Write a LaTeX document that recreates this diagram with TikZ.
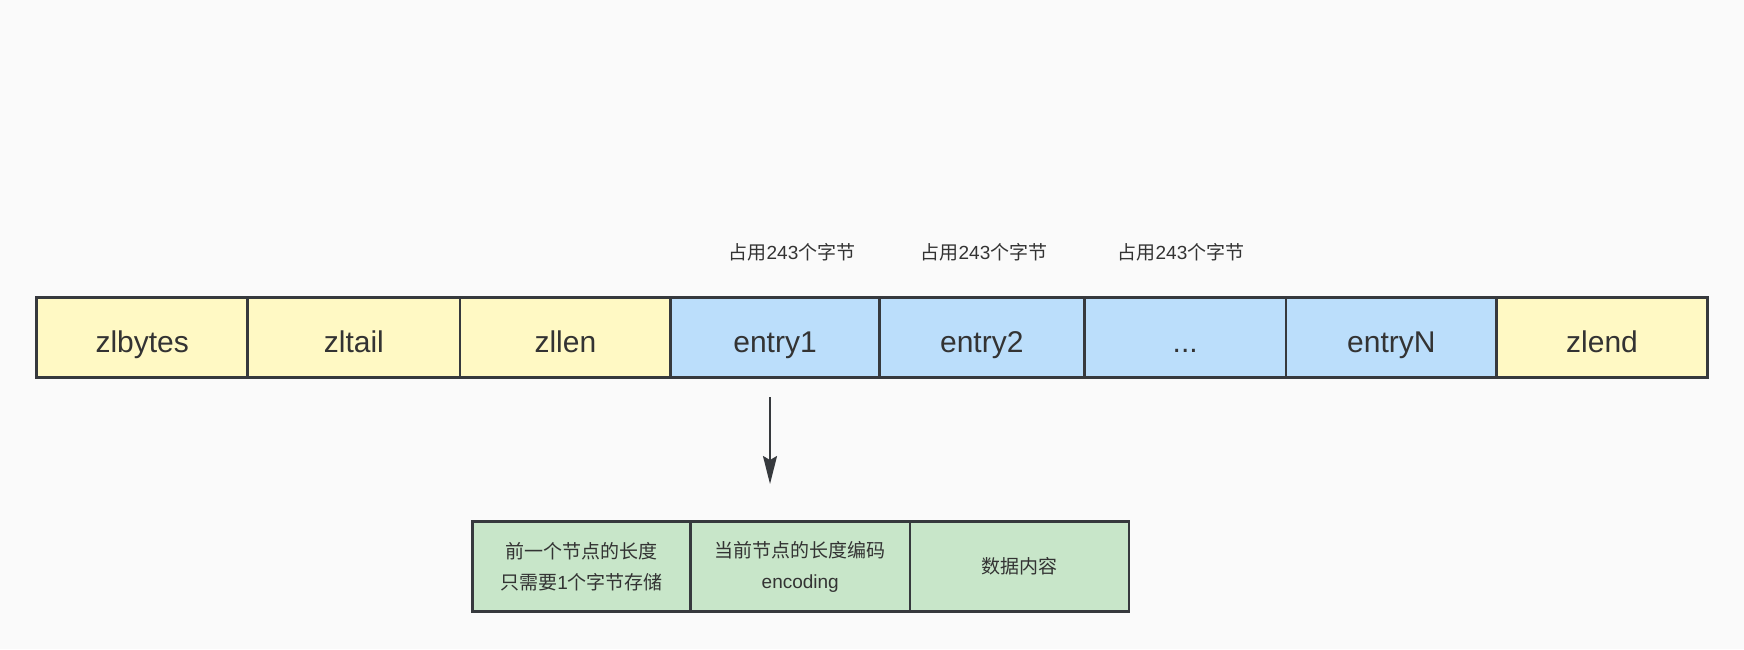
\documentclass[tikz,border=0pt]{standalone}
\usepackage{fontspec}
\setmainfont{Liberation Sans}
\newfontfamily\cjk{Noto Sans CJK SC}
\usetikzlibrary{arrows.meta}
\definecolor{bgc}{RGB}{250,250,250}
\definecolor{ylw}{RGB}{255,249,196}
\definecolor{blu}{RGB}{187,222,251}
\definecolor{grn}{RGB}{200,230,201}
\definecolor{stk}{RGB}{54,57,61}
\definecolor{txt}{RGB}{51,51,51}
\begin{document}
\begin{tikzpicture}[x=0.5pt,y=-0.5pt,
  cell/.style={draw=stk,line width=1.25pt,inner sep=0pt,minimum height=40.2pt,text height=15pt,text depth=0pt,text=txt,font=\fontsize{15pt}{18pt}\selectfont},
  ycell/.style={cell,fill=ylw},
  bcell/.style={cell,fill=blu},
  gcell/.style={draw=stk,line width=1.25pt,fill=grn,inner sep=0pt,minimum height=45pt,text=txt,align=center,font=\fontsize{9.5pt}{15.5pt}\selectfont},
  note/.style={text=txt,inner sep=0pt,font=\fontsize{9.5pt}{12pt}\selectfont},
  arr/.style={draw=stk,line width=1pt,-{Stealth[length=14pt,width=7pt,inset=2pt]}}]
\fill[bgc] (0,0) rectangle (1744,649);
\useasboundingbox (0,0) rectangle (1744,649);
% top row
\node[ycell,minimum width=105.5pt]  (zlbytes) at (142.2,337.5) {zlbytes};
\node[ycell,minimum width=106.15pt] (zltail)  at (353.85,337.5) {zltail};
\node[ycell,minimum width=105.35pt] (zllen)   at (565.35,337.5) {zllen};
\node[bcell,minimum width=104.3pt]  (entry1)  at (775,337.5) {entry1};
\node[bcell,minimum width=102.5pt]  (entry2)  at (981.8,337.5) {entry2};
\node[bcell,minimum width=100.85pt] (dots)    at (1185.15,337.5) {...};
\node[bcell,minimum width=105.35pt] (entryN)  at (1391.35,337.5) {entryN};
\node[ycell,minimum width=105.3pt]  (zlend)   at (1602,337.5) {zlend};
% labels above
\node[note] (l1) at (792,252.5) {{\cjk 占用}243{\cjk 个字节}};
\node[note] (l2) at (984,252.5) {{\cjk 占用}243{\cjk 个字节}};
\node[note] (l3) at (1181,252.5) {{\cjk 占用}243{\cjk 个字节}};
% arrow
\coordinate (as) at (770,397);
\coordinate (ae) at (770,484);
\draw[arr] (as) -- (ae);
% bottom row
\node[gcell,minimum width=109pt]   (prev) at (581.7,566.65) {{\cjk 前一个节点的长度}\\{\cjk 只需要}1{\cjk 个字节存储}};
\node[gcell,minimum width=109.55pt] (enc) at (800.25,566.65) {{\cjk 当前节点的长度编码}\\encoding};
\node[gcell,minimum width=109.55pt] (data) at (1019.35,566.65) {{\cjk 数据内容}};
\end{tikzpicture}
\end{document}
